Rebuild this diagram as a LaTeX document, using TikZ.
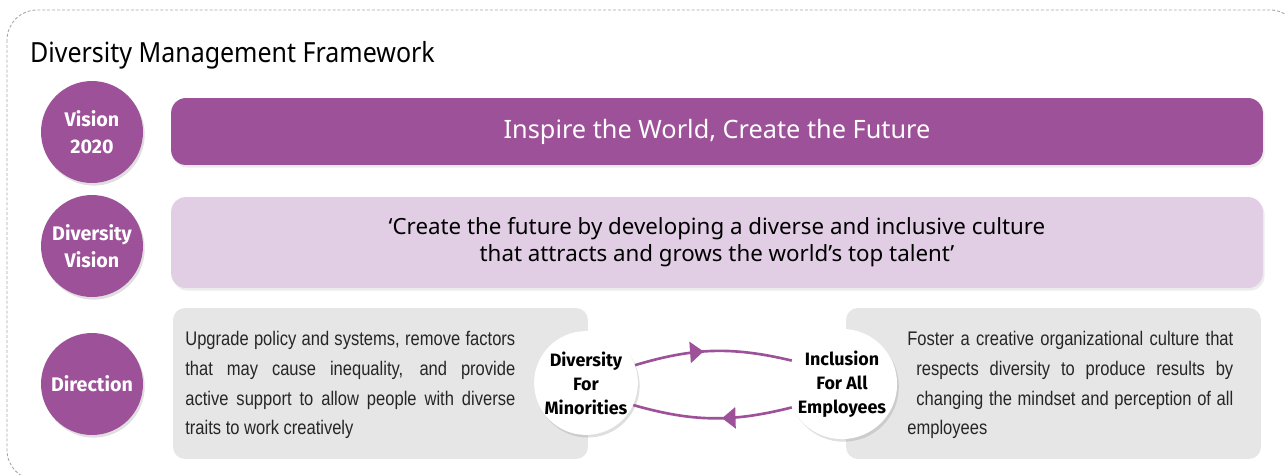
\documentclass[tikz,border=0pt]{standalone}
\usepackage{fontspec}
\setmainfont{Noto Sans}
\newfontfamily\titlefont[FakeStretch=0.9]{Noto Sans}
\newfontfamily\labelfont{Fira Sans}
\newfontfamily\narrowfont[FakeStretch=0.84]{Liberation Sans}
\usetikzlibrary{shadows,decorations.markings,arrows.meta}
\definecolor{vpurple}{HTML}{9D5198}
\definecolor{vlilac}{HTML}{E1CDE4}
\definecolor{vgray}{HTML}{E6E6E6}

\begin{document}
\begin{tikzpicture}[x=0.02cm, y=-0.02cm,
    badge/.style={shape=circle, fill=vpurple, minimum size=2.04cm, inner sep=0pt,
        text=white, align=center, font=\labelfont\bfseries\fontsize{11.2}{15.5}\selectfont,
        drop shadow={opacity=0.25, shadow xshift=1pt, shadow yshift=-1.5pt}},
    hub/.style={shape=circle, fill=white, minimum size=2.04cm, inner sep=0pt,
        align=center, font=\labelfont\bfseries\fontsize{10.2}{13.6}\selectfont,
        drop shadow={opacity=0.25, shadow xshift=1pt, shadow yshift=-1.5pt}},
    bar/.style={rounded corners=0.3cm, minimum width=21.84cm, align=center,
        drop shadow={opacity=0.15, shadow xshift=1pt, shadow yshift=-1.5pt}},
    graybox/.style={rounded corners=0.24cm, fill=vgray, minimum width=8.3cm, minimum height=3.02cm},
    bodytext/.style={align=left, inner sep=0pt, text=black!85, font=\narrowfont\fontsize{11.2}{17}\selectfont},
    flow/.style={draw=vpurple, line width=1.5pt, postaction={decorate},
        decoration={markings, mark=at position 0.44 with {\arrow{Triangle[length=0.27cm, width=0.42cm]}}}}]

\useasboundingbox (0,0) rectangle (1285,474);
\draw[gray!70, line width=0.5pt, dash pattern=on 1.7pt off 1.1pt, rounded corners=0.6cm] (7,10) rectangle (1300,480);

\node[anchor=base west, font=\titlefont\fontsize{15.8}{19}\selectfont] at (24,62) (title) {Diversity Management Framework};

% left column
\node[badge] at (92,132) (vision) {Vision\\2020};
\node[badge] at (92,246) (dvision) {Diversity\\Vision};
\node[badge] at (92,384) (direction) {Direction};

% bars
\node[bar, fill=vpurple, minimum height=1.34cm, text=white, font=\fontsize{14.4}{17}\selectfont] at (717,131.5) (slogan) {Inspire the World, Create the Future};
\node[bar, fill=vlilac, minimum height=1.82cm, font=\fontsize{12.7}{15.5}\selectfont] at (717,242.5) (quote) {‘Create the future by developing a diverse and inclusive culture\\that attracts and grows the world’s top talent’};

% direction
\node[graybox] at (380.5,383.5) (leftbox) {};
\node[graybox] at (1053.5,383.5) (rightbox) {};
\node[bodytext, anchor=west] at (185,385) (lefttext) {\makebox[6.6cm][s]{Upgrade policy and systems, remove factors}\\
    \makebox[6.6cm][s]{that may cause inequality, and provide}\\
    \makebox[6.6cm][s]{active support to allow people with diverse}\\
    traits to work creatively};
\node[bodytext, anchor=west] at (907,385) (righttext) {\makebox[6.52cm][s]{Foster a creative organizational culture that}\\
    \hspace{0.18cm}\makebox[6.34cm][s]{respects diversity to produce results by}\\
    \hspace{0.18cm}\makebox[6.34cm][s]{changing the mindset and perception of all}\\
    employees};

\node[hub] at (586,383) (dfm) {Diversity\\For\\Minorities};
\node[hub] at (842,384) (ifa) {Inclusion\\For All\\Employees};

\path (dfm.20) edge[flow, bend left=15] (ifa.155);
\path (ifa.205) edge[flow, bend left=15] (dfm.-25);
\end{tikzpicture}
\end{document}
